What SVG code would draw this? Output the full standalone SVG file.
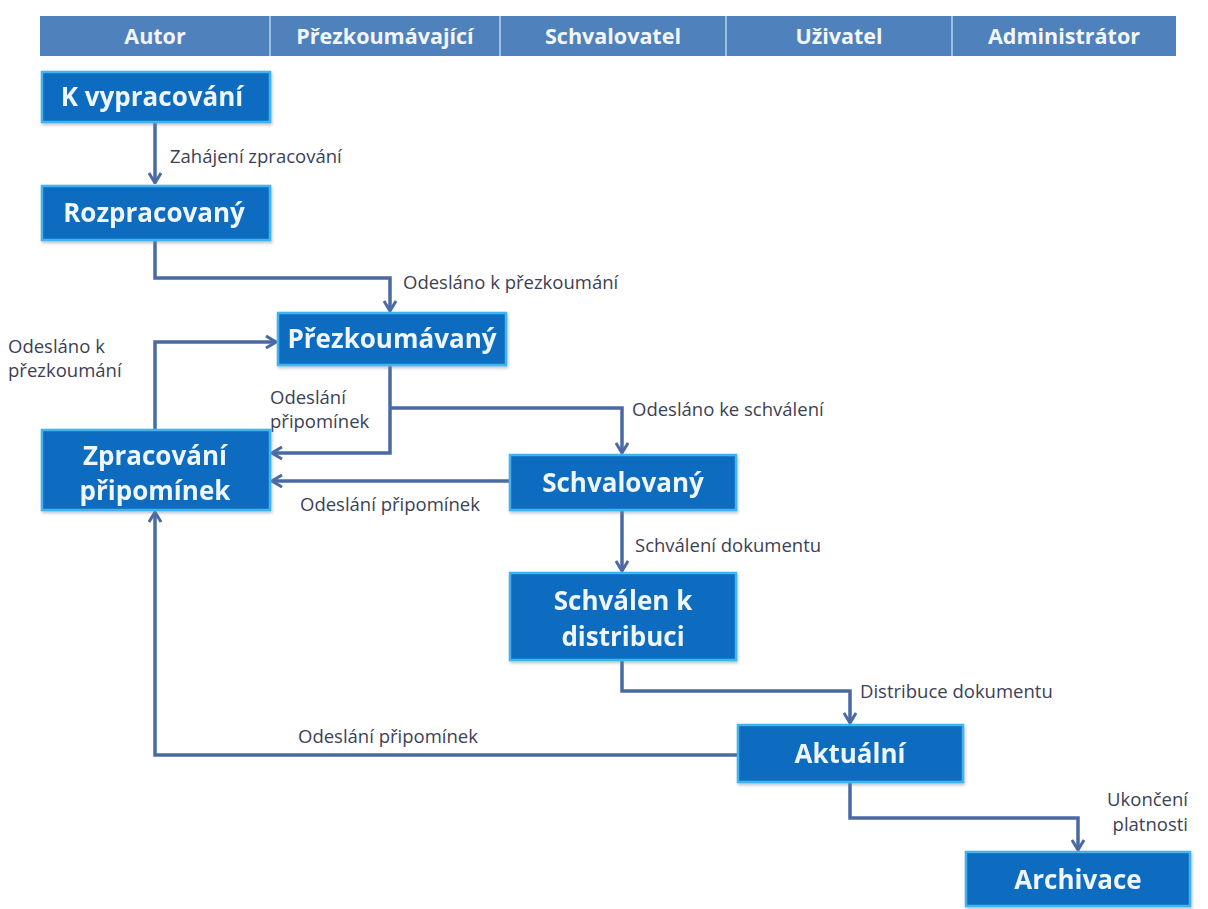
<svg xmlns="http://www.w3.org/2000/svg" width="1208" height="909" viewBox="0 0 1208 909">
<style>
.hdr{fill:#4f81bd}
.hdiv{stroke:#b9d3f0;stroke-width:1.5}
.ht{font-family:"Open Sans","Liberation Sans",sans-serif;font-weight:bold;font-size:21.5px;fill:#f2f6fb;text-anchor:middle}
.node{fill:#0a6cc0;stroke:#3fb4ee;stroke-width:2.5}
.nt{font-family:"Open Sans","Liberation Sans",sans-serif;font-weight:bold;font-size:26px;fill:#eef5fb;text-anchor:middle}
.cn{fill:none;stroke:#4a6aa3;stroke-width:3.5}
.lb{font-family:"Open Sans","Liberation Sans",sans-serif;font-size:18.5px;fill:#3c3f55}
</style>
<defs>
<marker id="ah" viewBox="0 0 12 14" refX="11" refY="7" markerWidth="12" markerHeight="14" markerUnits="userSpaceOnUse" orient="auto">
<path d="M1,1 L11,7 L1,13" fill="none" stroke="#4a6aa3" stroke-width="3"/>
</marker>
<filter id="sh" x="-10%" y="-20%" width="120%" height="140%">
<feDropShadow dx="1" dy="2" stdDeviation="1.5" flood-color="#7a8aa0" flood-opacity="0.5"/>
</filter>
</defs>
<rect width="1208" height="909" fill="#ffffff"/>
<g id="header">
<rect class="hdr" x="40" y="16" width="1136" height="40"/>
<line class="hdiv" x1="270" y1="16" x2="270" y2="56"/>
<line class="hdiv" x1="500" y1="16" x2="500" y2="56"/>
<line class="hdiv" x1="726" y1="16" x2="726" y2="56"/>
<line class="hdiv" x1="952" y1="16" x2="952" y2="56"/>
<text class="ht" x="155" y="44">Autor</text>
<text class="ht" x="385" y="44">Přezkoumávající</text>
<text class="ht" x="613" y="44">Schvalovatel</text>
<text class="ht" x="839" y="44">Uživatel</text>
<text class="ht" x="1064" y="44">Administrátor</text>
</g>
<g id="connectors">
<path class="cn" d="M155,122 V183" marker-end="url(#ah)"/>
<path class="cn" d="M155,240 V278 H390 V311" marker-end="url(#ah)"/>
<path class="cn" d="M155,430 V342 H276" marker-end="url(#ah)"/>
<path class="cn" d="M390,365 V453 H272" marker-end="url(#ah)"/>
<path class="cn" d="M390,408 H622 V453" marker-end="url(#ah)"/>
<path class="cn" d="M510,481 H272" marker-end="url(#ah)"/>
<path class="cn" d="M622,510 V571" marker-end="url(#ah)"/>
<path class="cn" d="M622,660 V691 H850 V723" marker-end="url(#ah)"/>
<path class="cn" d="M738,755 H155 V512" marker-end="url(#ah)"/>
<path class="cn" d="M850,782 V818 H1078 V850" marker-end="url(#ah)"/>
<text class="lb" x="170" y="163">Zahájení zpracování</text>
<text class="lb" x="403" y="289">Odesláno k přezkoumání</text>
<text class="lb" x="8" y="353">Odesláno k</text>
<text class="lb" x="8" y="377">přezkoumání</text>
<text class="lb" x="270" y="404">Odeslání</text>
<text class="lb" x="270" y="428">připomínek</text>
<text class="lb" x="632" y="416">Odesláno ke schválení</text>
<text class="lb" x="300" y="511">Odeslání připomínek</text>
<text class="lb" x="635" y="552">Schválení dokumentu</text>
<text class="lb" x="860" y="698">Distribuce dokumentu</text>
<text class="lb" x="298" y="743">Odeslání připomínek</text>
<text class="lb" x="1188" y="806" text-anchor="end">Ukončení</text>
<text class="lb" x="1188" y="831" text-anchor="end">platnosti</text>
</g>
<g id="n_kvypracovani" filter="url(#sh)">
<rect class="node" x="42" y="72" width="228" height="50"/>
<text class="nt" x="152" y="106">K vypracování</text>
</g>
<g id="n_rozpracovany" filter="url(#sh)">
<rect class="node" x="42" y="186" width="228" height="54"/>
<text class="nt" x="154" y="222">Rozpracovaný</text>
</g>
<g id="n_prezkoumavany" filter="url(#sh)">
<rect class="node" x="278" y="313" width="228" height="52"/>
<text class="nt" x="392" y="348">Přezkoumávaný</text>
</g>
<g id="n_zpracovani" filter="url(#sh)">
<rect class="node" x="42" y="430" width="228" height="80"/>
<text class="nt" x="155" y="465">Zpracování</text>
<text class="nt" x="155" y="500">připomínek</text>
</g>
<g id="n_schvalovany" filter="url(#sh)">
<rect class="node" x="510" y="455" width="226" height="55"/>
<text class="nt" x="623" y="492">Schvalovaný</text>
</g>
<g id="n_schvalen" filter="url(#sh)">
<rect class="node" x="510" y="573" width="226" height="87"/>
<text class="nt" x="623" y="610">Schválen k</text>
<text class="nt" x="623" y="646">distribuci</text>
</g>
<g id="n_aktualni" filter="url(#sh)">
<rect class="node" x="738" y="725" width="225" height="57"/>
<text class="nt" x="850" y="763">Aktuální</text>
</g>
<g id="n_archivace" filter="url(#sh)">
<rect class="node" x="966" y="852" width="224" height="54"/>
<text class="nt" x="1078" y="889">Archivace</text>
</g>
</svg>
